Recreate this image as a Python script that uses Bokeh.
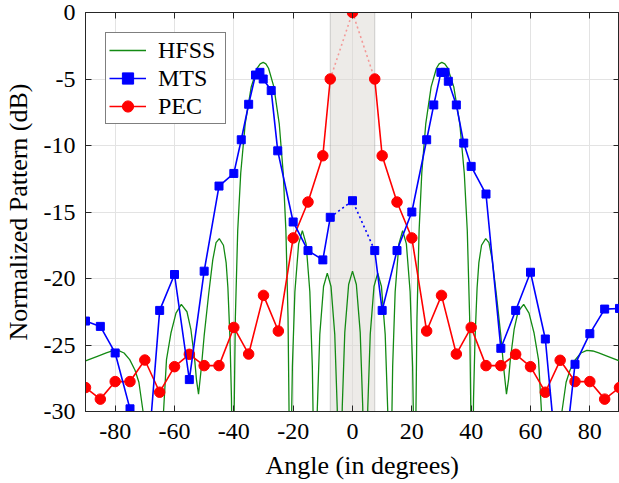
from bokeh.plotting import figure
from bokeh.models import (LinearAxis, BoxAnnotation, Legend, LegendItem,
                          FixedTicker, Range1d)
from bokeh.embed import file_html
from bokeh.resources import INLINE

# ---------------- data ----------------
hfss_angle = [-90.0, -86.0, -83.0, -81.0, -79.0, -77.0, -75.1, -73.3, -72.0, -70.6,
              -69.8, -68.5, -66.0, -64.5, -63.7, -62.7, -61.2, -59.5, -57.7, -55.8,
              -54.5, -53.2, -52.6, -51.9, -51.0, -50.0, -48.5, -47.1, -46.0, -44.9,
              -43.5, -42.6, -42.0, -41.3, -40.8, -40.45, -40.2, -39.9, -39.49, -38.69,
              -37.68, -36.16, -34.14, -32.12, -31.11, -30.1, -29.2, -28.3, -26.5, -24.7,
              -23.35, -22.45, -21.73, -21.37, -21.1, -20.68, -20.26, -19.42, -18.16, -16.9,
              -15.64, -14.38, -13.54, -13.12, -12.7, -12.28, -11.86, -11.02, -9.76, -8.5,
              -7.24, -5.98, -5.14, -4.72, -4.3, -3.9, -3.45, -2.6, -1.3, 0.0,
              1.3, 2.6, 3.45, 3.9, 4.3, 4.72, 5.14, 5.98, 7.24, 8.5,
              9.76, 11.02, 11.86, 12.28, 12.7, 13.12, 13.54, 14.38, 15.64, 16.9,
              18.16, 19.42, 20.26, 20.68, 21.1, 21.37, 21.73, 22.45, 23.35, 24.7,
              26.5, 28.3, 29.2, 30.1, 31.11, 32.12, 34.14, 36.16, 37.68, 38.69,
              39.49, 39.9, 40.2, 40.45, 40.8, 41.3, 42.0, 42.6, 43.5, 44.9,
              46.0, 47.1, 48.5, 50.0, 51.0, 51.9, 52.6, 53.2, 54.5, 55.8,
              57.7, 59.5, 61.2, 62.7, 63.7, 64.5, 66.0, 68.5, 69.8, 70.6,
              72.0, 73.3, 75.1, 77.0, 79.0, 81.0, 83.0, 86.0, 90.0]
hfss_db = [-26.2, -25.85, -25.6, -25.45, -25.4, -25.6, -26.1, -26.9, -27.8, -30.0,
           -36.0, -42.0, -42.0, -36.0, -30.0, -26.1, -24.1, -22.6, -21.95, -22.5,
           -23.8, -26.1, -27.6, -28.7, -26.8, -24.3, -21.2, -18.6, -17.3, -17.0,
           -17.5, -18.8, -20.7, -24.5, -29.0, -36.0, -50.0, -30.3, -22.95, -16.39,
           -12.09, -8.35, -5.59, -4.19, -3.86, -3.75, -3.86, -4.19, -5.59, -8.35,
           -12.09, -16.39, -22.95, -30.3, -50.0, -32.5, -26.6, -21.0, -17.4, -16.4,
           -17.4, -21.0, -26.6, -32.5, -50.0, -35.7, -29.8, -24.2, -20.6, -19.6,
           -20.6, -24.2, -29.8, -35.7, -50.0, -35.5, -29.65, -24.05, -20.45, -19.45,
           -20.45, -24.05, -29.65, -35.5, -50.0, -35.7, -29.8, -24.2, -20.6, -19.6,
           -20.6, -24.2, -29.8, -35.7, -50.0, -32.5, -26.6, -21.0, -17.4, -16.4,
           -17.4, -21.0, -26.6, -32.5, -50.0, -30.3, -22.95, -16.39, -12.09, -8.35,
           -5.59, -4.19, -3.86, -3.75, -3.86, -4.19, -5.59, -8.35, -12.09, -16.39,
           -22.95, -30.3, -50.0, -36.0, -29.0, -24.5, -20.7, -18.8, -17.5, -17.0,
           -17.3, -18.6, -21.2, -24.3, -26.8, -28.7, -27.6, -26.1, -23.8, -22.5,
           -21.95, -22.6, -24.1, -26.1, -30.0, -36.0, -42.0, -42.0, -36.0, -30.0,
           -27.8, -26.9, -26.1, -25.6, -25.4, -25.45, -25.6, -25.85, -26.2]

mts_angle = [-90, -85, -80, -75, -70, -65, -60, -55, -50, -45,
             -40, -37.5, -35, -32.7, -31.2, -30.1, -27.4, -25.2, -20, -15,
             -10, -7.5, 0, 7.5, 10, 15, 20, 25, 27.4, 29.8,
             31.2, 32.3, 35, 37.5, 40, 45, 50, 55, 60, 65,
             70, 75, 80, 85, 90]
mts_db = [-23.2, -23.6, -25.6, -29.8, -36.3, -22.4, -19.7, -27.6, -19.45, -13.05,
          -12.1, -9.57, -6.9, -4.7, -4.5, -5.0, -5.87, -10.4, -15.75, -17.9,
          -18.6, -15.4, -14.15, -17.9, -22.4, -17.9, -15.0, -9.57, -6.95, -4.5,
          -4.5, -5.17, -6.95, -9.82, -11.57, -13.65, -25.25, -22.4, -19.53, -24.55,
          -36.5, -26.45, -24.15, -22.3, -22.25]

pec_angle = [-90, -85, -80, -75, -70, -65, -60, -55, -50, -45,
             -40, -35, -30, -25, -20, -15, -10, -7.5, 0, 7.5,
             10, 15, 20, 25, 30, 35, 40, 45, 50, 55,
             60, 65, 70, 75, 80, 85, 90]
pec_db = [-28.2, -29.07, -27.75, -27.75, -26.13, -28.55, -26.63, -25.7, -26.55, -26.55,
          -23.68, -25.68, -21.27, -23.95, -16.95, -14.25, -10.77, -5.0, 0.0, -5.0,
          -10.77, -14.25, -16.95, -23.95, -21.27, -25.68, -23.68, -26.55, -26.55, -25.7,
          -26.63, -28.55, -26.15, -27.75, -27.75, -29.07, -28.2]

steer_region = [-7.5, 7.5]
x_ticks = [-80, -60, -40, -20, 0, 20, 40, 60, 80]
x_tick_labels = ["-80", "-60", "-40", "-20", "0", "20", "40", "60", "80"]
y_ticks = [-30, -25, -20, -15, -10, -5, 0]
y_tick_labels = ["-30", "-25", "-20", "-15", "-10", "-5", "0"]

# ---------------- figure ----------------
FONT = "Liberation Serif"
AX = "#262626"

p = figure(width=619, height=483,
           x_range=Range1d(-90, 90), y_range=Range1d(-30, 0),
           output_backend="svg", toolbar_location=None,
           min_border_left=84, min_border_top=12, min_border_right=0,
           min_border_bottom=72)
p.background_fill_color = "white"
p.border_fill_color = "white"
p.outline_line_color = AX
p.outline_line_width = 1

for ax, ticks, labels in ((p.xaxis[0], x_ticks, x_tick_labels),
                          (p.yaxis[0], y_ticks, y_tick_labels)):
    ax.ticker = FixedTicker(ticks=ticks)
    ax.major_label_overrides = {t: s for t, s in zip(ticks, labels)}
    ax.major_tick_in = 6
    ax.major_tick_out = 0
    ax.minor_tick_line_color = None
    ax.axis_line_color = AX
    ax.major_tick_line_color = AX
    ax.major_label_text_font = FONT
    ax.major_label_text_font_size = "24px"
    ax.major_label_text_color = "black"
    ax.axis_label_text_font = FONT
    ax.axis_label_text_font_size = "26px"
    ax.axis_label_text_font_style = "normal"
    ax.axis_label_text_color = "black"

# leading no-break spaces nudge the centred label right, as in the reference
p.xaxis.axis_label = "\u00a0\u00a0\u00a0Angle (in degrees)"
p.yaxis.axis_label = "Normalized Pattern (dB)"
p.xaxis.major_label_standoff = 12
p.yaxis.major_label_standoff = 10
p.xaxis.axis_label_standoff = 9
p.yaxis.axis_label_standoff = 8

for loc, ticks in (("above", x_ticks), ("right", y_ticks)):
    ax = LinearAxis(ticker=FixedTicker(ticks=ticks))
    ax.major_tick_in = 6
    ax.major_tick_out = 0
    ax.minor_tick_line_color = None
    ax.axis_line_color = AX
    ax.major_tick_line_color = AX
    ax.major_label_text_font_size = "1px"
    ax.major_label_text_color = None
    ax.major_label_standoff = 0
    p.add_layout(ax, loc)

p.xgrid.ticker = FixedTicker(ticks=x_ticks)
p.ygrid.ticker = FixedTicker(ticks=y_ticks)
p.grid.grid_line_color = "#e3e3e3"
p.grid.grid_line_width = 1

shade = BoxAnnotation(left=steer_region[0], right=steer_region[1],
                      fill_color="#dcd8d2", fill_alpha=0.5,
                      line_color="#707070", line_width=1, level="underlay")
p.add_layout(shade)

# HFSS
r_h = p.line(hfss_angle, hfss_db, line_color="#138a13", line_width=1.3)

# PEC
n_l = pec_angle.index(steer_region[0])
n_r = pec_angle.index(steer_region[1])
r_pl = p.line(pec_angle[:n_l + 1], pec_db[:n_l + 1], line_color="#ff0000", line_width=1.6)
p.line(pec_angle[n_r:], pec_db[n_r:], line_color="#ff0000", line_width=1.6)
p.line(pec_angle[n_l:n_r + 1], pec_db[n_l:n_r + 1], line_color="#ff0000",
       line_alpha=0.35, line_width=1.6, line_dash="2 3")
r_pm = p.scatter(pec_angle, pec_db, marker="circle", size=10.5,
                 fill_color="#ff0000", line_color="#ff0000")

# MTS
m_l = mts_angle.index(steer_region[0])
m_r = mts_angle.index(steer_region[1])
r_ml = p.line(mts_angle[:m_l + 1], mts_db[:m_l + 1], line_color="#0000ff", line_width=1.6)
p.line(mts_angle[m_r:], mts_db[m_r:], line_color="#0000ff", line_width=1.6)
p.line(mts_angle[m_l:m_r + 1], mts_db[m_l:m_r + 1], line_color="#0000ff",
       line_width=1.6, line_dash="2 3")
r_mm = p.scatter(mts_angle, mts_db, marker="square", size=8,
                 fill_color="#0000ff", line_color="#0000ff")

legend = Legend(items=[LegendItem(label="HFSS", renderers=[r_h]),
                       LegendItem(label="MTS", renderers=[r_ml, r_mm]),
                       LegendItem(label="PEC", renderers=[r_pl, r_pm])],
                location="top_left")
legend.margin = 20
legend.padding = 3
legend.spacing = 0
legend.label_height = 28
legend.glyph_height = 28
legend.glyph_width = 37
legend.label_width = 64
legend.label_standoff = 12
legend.label_text_font = FONT
legend.label_text_font_size = "24px"
legend.label_text_color = "black"
legend.border_line_color = "black"
legend.border_line_width = 1
legend.background_fill_color = "white"
legend.background_fill_alpha = 1
p.add_layout(legend, "center")

open("out.html", "w").write(file_html(p, INLINE))
